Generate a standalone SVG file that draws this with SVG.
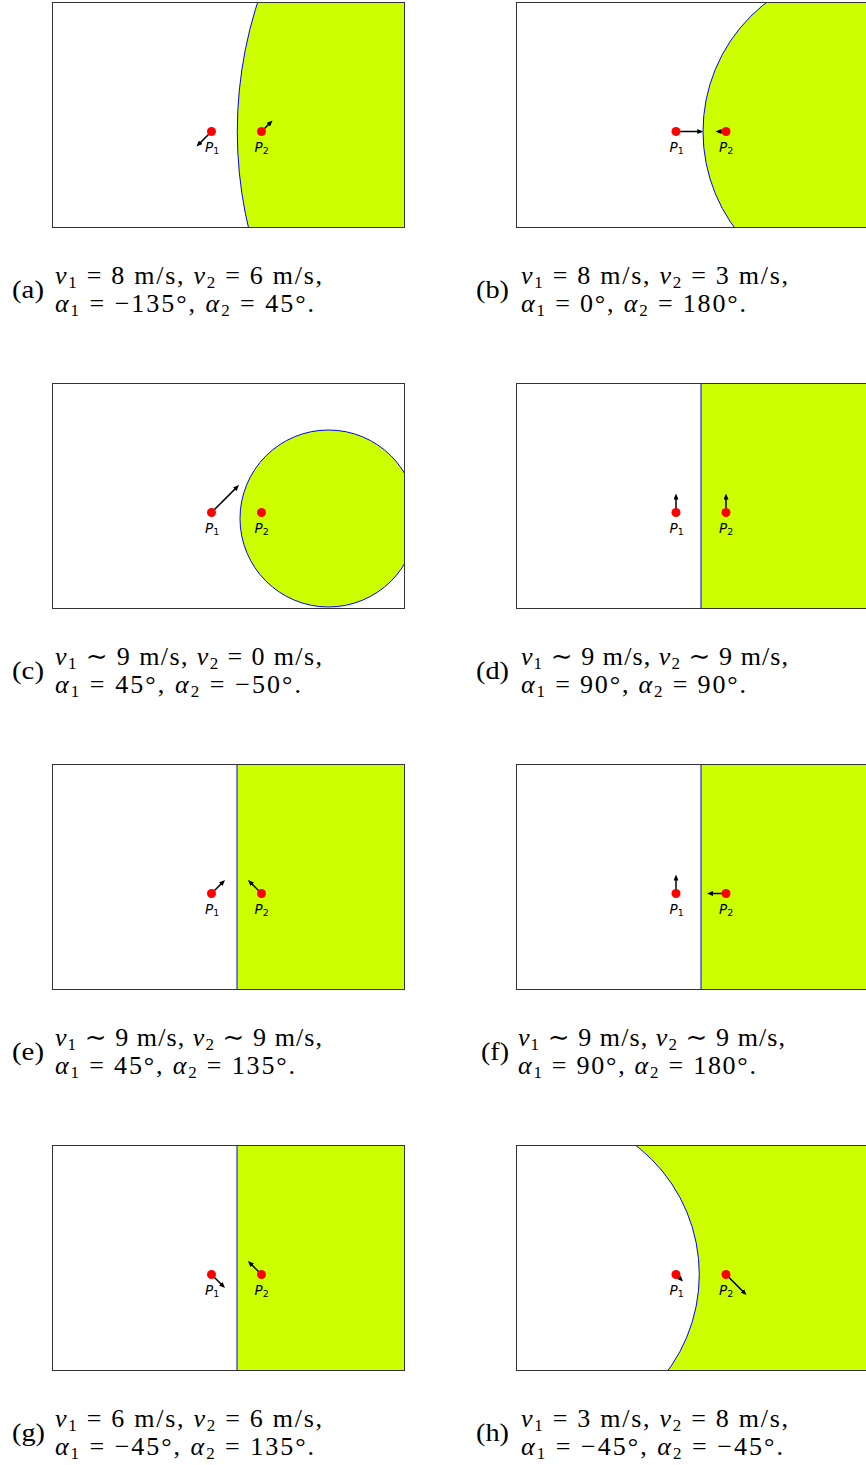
<svg xmlns="http://www.w3.org/2000/svg" width="866" height="1465" viewBox="0 0 866 1465">
<style>
.bg{fill:#fff}
.frame{fill:none;stroke:#333;stroke-width:1}
.region{fill:#ccff00;stroke:#0000ff;stroke-width:1}
.hole{fill:#fff;stroke:#0000ff;stroke-width:1}
.green{fill:#ccff00}
.edge{stroke:#0000ff;stroke-width:1}
.dot{fill:#ff0000}
.vec{stroke:#000;stroke-width:1.5;fill:none;marker-end:url(#ah)}
.plab{font-family:"DejaVu Sans",sans-serif;font-style:italic;font-size:13.5px;fill:#000}
.psub{font-style:normal;font-size:9.5px}
.cap{font-family:"Liberation Serif","DejaVu Serif",serif;font-size:26px;fill:#000}
.m{font-style:italic}
.sub{font-size:17px}
</style>
<defs>
<marker id="ah" viewBox="0 0 6 5" refX="3" refY="2.5" markerWidth="6" markerHeight="5" markerUnits="userSpaceOnUse" orient="auto">
<path d="M0,0 L6,2.5 L0,5 z" fill="#000"/>
</marker>
<clipPath id="clipL" clipPathUnits="userSpaceOnUse"><rect x="53" y="3" width="351" height="224"/></clipPath>
<clipPath id="clipR" clipPathUnits="userSpaceOnUse"><rect x="517" y="3" width="349" height="224"/></clipPath>
</defs>
<rect class="bg" x="0" y="0" width="866" height="1465"/>

<!-- Row 1 -->
<g id="panel-a">
<g clip-path="url(#clipL)"><circle class="region" cx="658.3" cy="131.5" r="421"/></g>
<rect class="frame" x="52.5" y="2.5" width="352" height="225"/>
<text class="cap" x="12" y="298" textLength="32" lengthAdjust="spacingAndGlyphs">(a)</text>
<text class="cap" x="55" y="284" textLength="267" lengthAdjust="spacing"><tspan class="m">v</tspan><tspan class="sub" dy="3.5">1</tspan><tspan dy="-3.5"> = 8 m/s, </tspan><tspan class="m">v</tspan><tspan class="sub" dy="3.5">2</tspan><tspan dy="-3.5"> = 6 m/s,</tspan></text>
<text class="cap" x="55" y="312" textLength="259" lengthAdjust="spacing"><tspan class="m">α</tspan><tspan class="sub" dy="3.5">1</tspan><tspan dy="-3.5"> = −135°, </tspan><tspan class="m">α</tspan><tspan class="sub" dy="3.5">2</tspan><tspan dy="-3.5"> = 45°.</tspan></text>
</g>
<g id="panel-b">
<g clip-path="url(#clipR)"><circle class="region" cx="866" cy="131.5" r="163"/></g>
<rect class="frame" x="516.5" y="2.5" width="400" height="225"/>
<text class="cap" x="476" y="298" textLength="33" lengthAdjust="spacingAndGlyphs">(b)</text>
<text class="cap" x="521" y="284" textLength="267" lengthAdjust="spacing"><tspan class="m">v</tspan><tspan class="sub" dy="3.5">1</tspan><tspan dy="-3.5"> = 8 m/s, </tspan><tspan class="m">v</tspan><tspan class="sub" dy="3.5">2</tspan><tspan dy="-3.5"> = 3 m/s,</tspan></text>
<text class="cap" x="521" y="312" textLength="225" lengthAdjust="spacing"><tspan class="m">α</tspan><tspan class="sub" dy="3.5">1</tspan><tspan dy="-3.5"> = 0°, </tspan><tspan class="m">α</tspan><tspan class="sub" dy="3.5">2</tspan><tspan dy="-3.5"> = 180°.</tspan></text>
</g>

<!-- Row 2 -->
<g id="panel-c" transform="translate(0,381)">
<g clip-path="url(#clipL)"><circle class="region" cx="328.5" cy="137.5" r="88.5"/></g>
<rect class="frame" x="52.5" y="2.5" width="352" height="225"/>
<text class="cap" x="12" y="298" textLength="32" lengthAdjust="spacingAndGlyphs">(c)</text>
<text class="cap" x="55" y="284" textLength="267" lengthAdjust="spacing"><tspan class="m">v</tspan><tspan class="sub" dy="3.5">1</tspan><tspan dy="-3.5"> ∼ 9 m/s, </tspan><tspan class="m">v</tspan><tspan class="sub" dy="3.5">2</tspan><tspan dy="-3.5"> = 0 m/s,</tspan></text>
<text class="cap" x="55" y="312" textLength="246" lengthAdjust="spacing"><tspan class="m">α</tspan><tspan class="sub" dy="3.5">1</tspan><tspan dy="-3.5"> = 45°, </tspan><tspan class="m">α</tspan><tspan class="sub" dy="3.5">2</tspan><tspan dy="-3.5"> = −50°.</tspan></text>
</g>
<g id="panel-d" transform="translate(0,381)">
<rect class="green" x="701" y="3" width="165" height="224"/>
<line class="edge" x1="701" y1="3" x2="701" y2="227"/>
<rect class="frame" x="516.5" y="2.5" width="400" height="225"/>
<text class="cap" x="476" y="298" textLength="33" lengthAdjust="spacingAndGlyphs">(d)</text>
<text class="cap" x="521" y="284" textLength="267" lengthAdjust="spacing"><tspan class="m">v</tspan><tspan class="sub" dy="3.5">1</tspan><tspan dy="-3.5"> ∼ 9 m/s, </tspan><tspan class="m">v</tspan><tspan class="sub" dy="3.5">2</tspan><tspan dy="-3.5"> ∼ 9 m/s,</tspan></text>
<text class="cap" x="521" y="312" textLength="225" lengthAdjust="spacing"><tspan class="m">α</tspan><tspan class="sub" dy="3.5">1</tspan><tspan dy="-3.5"> = 90°, </tspan><tspan class="m">α</tspan><tspan class="sub" dy="3.5">2</tspan><tspan dy="-3.5"> = 90°.</tspan></text>
</g>

<!-- Row 3 -->
<g id="panel-e" transform="translate(0,762)">
<rect class="green" x="237" y="3" width="167" height="224"/>
<line class="edge" x1="237" y1="3" x2="237" y2="227"/>
<rect class="frame" x="52.5" y="2.5" width="352" height="225"/>
<text class="cap" x="12" y="298" textLength="32" lengthAdjust="spacingAndGlyphs">(e)</text>
<text class="cap" x="55" y="284" textLength="267" lengthAdjust="spacing"><tspan class="m">v</tspan><tspan class="sub" dy="3.5">1</tspan><tspan dy="-3.5"> ∼ 9 m/s, </tspan><tspan class="m">v</tspan><tspan class="sub" dy="3.5">2</tspan><tspan dy="-3.5"> ∼ 9 m/s,</tspan></text>
<text class="cap" x="55" y="312" textLength="240" lengthAdjust="spacing"><tspan class="m">α</tspan><tspan class="sub" dy="3.5">1</tspan><tspan dy="-3.5"> = 45°, </tspan><tspan class="m">α</tspan><tspan class="sub" dy="3.5">2</tspan><tspan dy="-3.5"> = 135°.</tspan></text>
</g>
<g id="panel-f" transform="translate(0,762)">
<rect class="green" x="701" y="3" width="165" height="224"/>
<line class="edge" x1="701" y1="3" x2="701" y2="227"/>
<rect class="frame" x="516.5" y="2.5" width="400" height="225"/>
<text class="cap" x="481" y="298" textLength="28" lengthAdjust="spacingAndGlyphs">(f)</text>
<text class="cap" x="518" y="284" textLength="267" lengthAdjust="spacing"><tspan class="m">v</tspan><tspan class="sub" dy="3.5">1</tspan><tspan dy="-3.5"> ∼ 9 m/s, </tspan><tspan class="m">v</tspan><tspan class="sub" dy="3.5">2</tspan><tspan dy="-3.5"> ∼ 9 m/s,</tspan></text>
<text class="cap" x="518" y="312" textLength="238" lengthAdjust="spacing"><tspan class="m">α</tspan><tspan class="sub" dy="3.5">1</tspan><tspan dy="-3.5"> = 90°, </tspan><tspan class="m">α</tspan><tspan class="sub" dy="3.5">2</tspan><tspan dy="-3.5"> = 180°.</tspan></text>
</g>

<!-- Row 4 -->
<g id="panel-g" transform="translate(0,1143)">
<rect class="green" x="237" y="3" width="167" height="224"/>
<line class="edge" x1="237" y1="3" x2="237" y2="227"/>
<rect class="frame" x="52.5" y="2.5" width="352" height="225"/>
<text class="cap" x="12" y="298" textLength="33" lengthAdjust="spacingAndGlyphs">(g)</text>
<text class="cap" x="55" y="284" textLength="267" lengthAdjust="spacing"><tspan class="m">v</tspan><tspan class="sub" dy="3.5">1</tspan><tspan dy="-3.5"> = 6 m/s, </tspan><tspan class="m">v</tspan><tspan class="sub" dy="3.5">2</tspan><tspan dy="-3.5"> = 6 m/s,</tspan></text>
<text class="cap" x="55" y="312" textLength="259" lengthAdjust="spacing"><tspan class="m">α</tspan><tspan class="sub" dy="3.5">1</tspan><tspan dy="-3.5"> = −45°, </tspan><tspan class="m">α</tspan><tspan class="sub" dy="3.5">2</tspan><tspan dy="-3.5"> = 135°.</tspan></text>
</g>
<g id="panel-h" transform="translate(0,1143)">
<g clip-path="url(#clipR)"><rect class="green" x="517" y="3" width="349" height="224"/><circle class="hole" cx="536.3" cy="131.5" r="163"/></g>
<rect class="frame" x="516.5" y="2.5" width="400" height="225"/>
<text class="cap" x="476" y="298" textLength="33" lengthAdjust="spacingAndGlyphs">(h)</text>
<text class="cap" x="521" y="284" textLength="267" lengthAdjust="spacing"><tspan class="m">v</tspan><tspan class="sub" dy="3.5">1</tspan><tspan dy="-3.5"> = 3 m/s, </tspan><tspan class="m">v</tspan><tspan class="sub" dy="3.5">2</tspan><tspan dy="-3.5"> = 8 m/s,</tspan></text>
<text class="cap" x="521" y="312" textLength="262" lengthAdjust="spacing"><tspan class="m">α</tspan><tspan class="sub" dy="3.5">1</tspan><tspan dy="-3.5"> = −45°, </tspan><tspan class="m">α</tspan><tspan class="sub" dy="3.5">2</tspan><tspan dy="-3.5"> = −45°.</tspan></text>
</g>

<g id="vectors">
<line class="vec" x1="211.5" y1="131.5" x2="198.6" y2="144.4"/>
<line class="vec" x1="261.5" y1="131.5" x2="270.4" y2="122.6"/>
<line class="vec" x1="676" y1="131.5" x2="700.3" y2="131.5"/>
<line class="vec" x1="726" y1="131.5" x2="718.5" y2="131.5"/>
<line class="vec" x1="211.5" y1="512.5" x2="236.9" y2="487.1"/>
<line class="vec" x1="676" y1="512.5" x2="676" y2="496.5"/>
<line class="vec" x1="726" y1="512.5" x2="726" y2="496.5"/>
<line class="vec" x1="211.5" y1="893.5" x2="222.9" y2="882.1"/>
<line class="vec" x1="261.5" y1="893.5" x2="250.1" y2="882.1"/>
<line class="vec" x1="676" y1="893.5" x2="676" y2="877.5"/>
<line class="vec" x1="726" y1="893.5" x2="710" y2="893.5"/>
<line class="vec" x1="211.5" y1="1274.5" x2="222.9" y2="1285.9"/>
<line class="vec" x1="261.5" y1="1274.5" x2="250.1" y2="1263.1"/>
<line class="vec" x1="676" y1="1274.5" x2="680.9" y2="1279.4"/>
<line class="vec" x1="726" y1="1274.5" x2="744.4" y2="1292.9"/>
</g>

<g id="points">
<g id="pts-a"><circle class="dot" cx="211.5" cy="131.5" r="4.5"/><circle class="dot" cx="261.5" cy="131.5" r="4.5"/>
<text class="plab" x="205" y="151.5">P<tspan class="psub" dy="2">1</tspan></text><text class="plab" x="254.5" y="151.5">P<tspan class="psub" dy="2">2</tspan></text></g>
<g id="pts-b"><circle class="dot" cx="676" cy="131.5" r="4.5"/><circle class="dot" cx="726" cy="131.5" r="4.5"/>
<text class="plab" x="669.5" y="151.5">P<tspan class="psub" dy="2">1</tspan></text><text class="plab" x="719" y="151.5">P<tspan class="psub" dy="2">2</tspan></text></g>
<g id="pts-c"><circle class="dot" cx="211.5" cy="512.5" r="4.5"/><circle class="dot" cx="261.5" cy="512.5" r="4.5"/>
<text class="plab" x="205" y="532.5">P<tspan class="psub" dy="2">1</tspan></text><text class="plab" x="254.5" y="532.5">P<tspan class="psub" dy="2">2</tspan></text></g>
<g id="pts-d"><circle class="dot" cx="676" cy="512.5" r="4.5"/><circle class="dot" cx="726" cy="512.5" r="4.5"/>
<text class="plab" x="669.5" y="532.5">P<tspan class="psub" dy="2">1</tspan></text><text class="plab" x="719" y="532.5">P<tspan class="psub" dy="2">2</tspan></text></g>
<g id="pts-e"><circle class="dot" cx="211.5" cy="893.5" r="4.5"/><circle class="dot" cx="261.5" cy="893.5" r="4.5"/>
<text class="plab" x="205" y="913.5">P<tspan class="psub" dy="2">1</tspan></text><text class="plab" x="254.5" y="913.5">P<tspan class="psub" dy="2">2</tspan></text></g>
<g id="pts-f"><circle class="dot" cx="676" cy="893.5" r="4.5"/><circle class="dot" cx="726" cy="893.5" r="4.5"/>
<text class="plab" x="669.5" y="913.5">P<tspan class="psub" dy="2">1</tspan></text><text class="plab" x="719" y="913.5">P<tspan class="psub" dy="2">2</tspan></text></g>
<g id="pts-g"><circle class="dot" cx="211.5" cy="1274.5" r="4.5"/><circle class="dot" cx="261.5" cy="1274.5" r="4.5"/>
<text class="plab" x="205" y="1294.5">P<tspan class="psub" dy="2">1</tspan></text><text class="plab" x="254.5" y="1294.5">P<tspan class="psub" dy="2">2</tspan></text></g>
<g id="pts-h"><circle class="dot" cx="676" cy="1274.5" r="4.5"/><circle class="dot" cx="726" cy="1274.5" r="4.5"/>
<text class="plab" x="669.5" y="1294.5">P<tspan class="psub" dy="2">1</tspan></text><text class="plab" x="719" y="1294.5">P<tspan class="psub" dy="2">2</tspan></text></g>
</g>
</svg>
